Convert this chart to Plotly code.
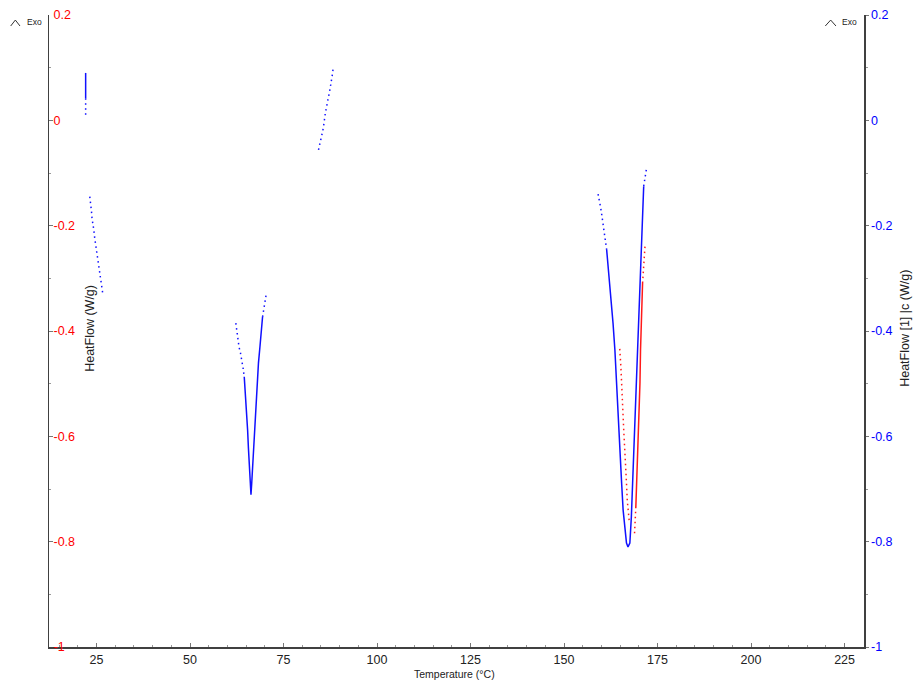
import plotly.graph_objects as go

# ---------------- data (Temperature °C, HeatFlow W/g) ----------------
# Blue series: HeatFlow [1] |c (right axis)
b1_solid_T = [22.1, 22.1]
b1_solid_hf = [0.090, 0.042]
b1_dots_T = [22.1, 22.1, 22.1, 22.1, 22.1, 22.1, 22.1, 22.1]
b1_dots_hf = [0.042, 0.035, 0.030, 0.025, 0.020, 0.0145, 0.010, 0.004]

b2_dots_T = [23.2, 23.5, 23.66, 23.8, 24.1, 24.28, 24.47, 24.73, 24.9, 25.08,
             25.27, 25.53, 25.7, 25.88, 26.15, 26.34, 26.77]
b2_dots_hf = [-0.145, -0.158, -0.173, -0.186, -0.197, -0.208, -0.221, -0.2335,
              -0.245, -0.256, -0.265, -0.277, -0.287, -0.297, -0.309, -0.319, -0.3335]

b3_left_dots_T = [62.25, 62.4, 62.6, 62.9, 63.1, 63.5, 63.85, 64.2, 64.5]
b3_left_dots_hf = [-0.385, -0.395, -0.404, -0.417, -0.430, -0.442, -0.455, -0.471, -0.487]
b3_solid_T = [64.5, 64.7, 64.9, 65.1, 65.4, 65.6, 65.8, 66.0, 66.3, 66.5, 66.8,
              67.1, 67.3, 67.6, 67.9, 68.3, 68.7, 69.1, 69.4]
b3_solid_hf = [-0.487, -0.506, -0.525, -0.556, -0.588, -0.620, -0.651, -0.683, -0.711,
               -0.689, -0.651, -0.607, -0.569, -0.525, -0.493, -0.461, -0.430, -0.398, -0.373]
b3_right_dots_T = [69.4, 69.65, 70.0, 70.45]
b3_right_dots_hf = [-0.373, -0.360, -0.341, -0.327]

b4_dots_T = [84.36, 84.97, 85.24, 85.43, 85.7, 85.86, 86.04, 86.2, 86.4, 86.58,
             86.85, 87.1, 87.3, 87.57, 87.8, 88.0, 88.26]
b4_dots_hf = [-0.056, -0.039, -0.030, -0.022, -0.012, -0.001, 0.007, 0.015, 0.0215,
              0.030, 0.037, 0.047, 0.054, 0.063, 0.072, 0.084, 0.0975]

b5_left_dots_T = [159.1, 159.6, 159.8, 160.1, 160.5, 160.9, 161.2, 161.4]
b5_left_dots_hf = [-0.140, -0.155, -0.166, -0.180, -0.202, -0.221, -0.240, -0.246]
b5_solid_T = [161.4, 161.8, 162.2, 162.7, 163.1, 163.6, 164.0, 164.5, 164.9, 165.4,
              165.8, 166.3, 166.7, 167.1, 167.6, 168.0, 168.5, 168.9, 169.4, 169.8,
              170.3, 170.7, 171.1, 171.3]
b5_solid_hf = [-0.246, -0.278, -0.309, -0.341, -0.385, -0.436, -0.499, -0.563, -0.626,
               -0.689, -0.740, -0.772, -0.8025, -0.810, -0.8025, -0.753, -0.658, -0.563,
               -0.468, -0.385, -0.322, -0.233, -0.151, -0.125]
b5_right_dots_T = [171.3, 171.6, 171.9, 172.1]
b5_right_dots_hf = [-0.125, -0.113, -0.098, -0.089]

# Red series: HeatFlow (left axis)
r_left_dots_T = [164.9, 165.1, 165.2, 165.4, 165.5, 165.8, 166.0, 166.3, 166.4,
                 166.7, 166.9, 167.1, 167.4]
r_left_dots_hf = [-0.434, -0.449, -0.468, -0.499, -0.531, -0.563, -0.594, -0.626,
                  -0.658, -0.689, -0.721, -0.740, -0.759]
r_bottom_dots_T = [168.85, 169.0, 169.2]
r_bottom_dots_hf = [-0.784, -0.759, -0.734]
r_solid_T = [169.2, 169.4, 169.8, 170.1, 170.3, 170.45, 170.7, 171.0]
r_solid_hf = [-0.734, -0.689, -0.626, -0.563, -0.499, -0.436, -0.373, -0.309]
r_top_dots_T = [171.0, 171.3, 171.7]
r_top_dots_hf = [-0.309, -0.265, -0.2335]

x_ticks = [25, 50, 75, 100, 125, 150, 175, 200, 225]
y_ticks = [-1, -0.8, -0.6, -0.4, -0.2, 0, 0.2]
y_ticktext = ["-1", "-0.8", "-0.6", "-0.4", "-0.2", "0", "0.2"]
y_minor = [-0.9, -0.7, -0.5, -0.3, -0.1, 0.1]

BLUE = "#1010ff"
RED = "#ff1a1a"
DOT = "1.5px,3.5px"

fig = go.Figure()


def add(T, hf, color, dotted, axis):
    fig.add_trace(go.Scatter(
        x=T, y=hf, mode="lines", yaxis=axis, showlegend=False, hoverinfo="skip",
        line=dict(color=color, width=1.5, dash=DOT if dotted else "solid")))


# blue
add(b1_solid_T, b1_solid_hf, BLUE, False, "y2")
add(b1_dots_T, b1_dots_hf, BLUE, True, "y2")
add(b2_dots_T, b2_dots_hf, BLUE, True, "y2")
add(b3_left_dots_T, b3_left_dots_hf, BLUE, True, "y2")
add(b3_solid_T, b3_solid_hf, BLUE, False, "y2")
add(b3_right_dots_T, b3_right_dots_hf, BLUE, True, "y2")
add(b4_dots_T, b4_dots_hf, BLUE, True, "y2")
add(b5_left_dots_T, b5_left_dots_hf, BLUE, True, "y2")
add(b5_solid_T, b5_solid_hf, BLUE, False, "y2")
add(b5_right_dots_T, b5_right_dots_hf, BLUE, True, "y2")
# red
add(r_left_dots_T, r_left_dots_hf, RED, True, "y")
add(r_bottom_dots_T, r_bottom_dots_hf, RED, True, "y")
add(r_solid_T, r_solid_hf, RED, False, "y")
add(r_top_dots_T, r_top_dots_hf, RED, True, "y")

FONT = "Liberation Sans, Arial, sans-serif"
AXC = "#404040"

fig.update_layout(
    width=914, height=682,
    margin=dict(l=49, r=50, t=15, b=35, autoexpand=False),
    paper_bgcolor="white", plot_bgcolor="white",
    font=dict(family=FONT, size=12, color="#222"),
    xaxis=dict(range=[12.3, 230.2], tickvals=x_ticks, showgrid=False, zeroline=False,
               automargin=False,
               showline=True, linecolor=AXC, linewidth=1.5,
               ticks="inside", ticklen=4, tickcolor="#777", tickwidth=1,
               tickfont=dict(family=FONT, size=12.5, color="#222"),
               minor=dict(dtick=5, ticks="inside", ticklen=2, tickcolor="#999")),
    yaxis=dict(range=[-1, 0.2], tickvals=y_ticks, ticktext=y_ticktext,
               showgrid=False, zeroline=False, automargin=False,
               showline=True, linecolor=AXC, linewidth=1.5,
               ticks="inside", ticklen=4, tickcolor="#777",
               ticklabelposition="inside", ticklabeloverflow="allow",
               tickfont=dict(family=FONT, size=12.5, color="#ff0000"),
               minor=dict(tickvals=y_minor, ticks="inside", ticklen=2, tickcolor="#999")),
    yaxis2=dict(range=[-1, 0.2], tickvals=y_ticks, ticktext=y_ticktext,
                overlaying="y", side="right", anchor="x",
                showgrid=False, zeroline=False, automargin=False,
                showline=True, linecolor=AXC, linewidth=1.5,
                ticks="outside", ticklen=3, tickcolor="#777",
                tickfont=dict(family=FONT, size=12.5, color="#0000ff"),
                minor=dict(tickvals=y_minor, ticks="outside", ticklen=2, tickcolor="#999")),
)

annos = [
    dict(text="Temperature (°C)", x=0.498, y=-0.0427, size=10.5, angle=0),
    dict(text="HeatFlow (W/g)", x=0.0503, y=0.505, size=12.5, angle=-90),
    dict(text="HeatFlow [1] |c (W/g)", x=1.0503, y=0.505, size=12.5, angle=-90),
    dict(text="Exo", x=-0.0175, y=0.9889, size=8.5, angle=0),
    dict(text="Exo", x=0.982, y=0.9889, size=8.5, angle=0),
]
for a in annos:
    fig.add_annotation(xref="paper", yref="paper", showarrow=False,
                       xanchor="center", yanchor="middle",
                       font=dict(family=FONT, color="#222", size=a["size"]),
                       text=a["text"], x=a["x"], y=a["y"], textangle=a["angle"])

# "^" exo markers
for x0, x1, x2 in [(-0.0470, -0.0413, -0.0356), (0.9525, 0.9591, 0.9656)]:
    fig.add_shape(type="path", xref="paper", yref="paper",
                  path=f"M {x0} 0.9826 L {x1} 0.992 L {x2} 0.9826",
                  line=dict(color="#333", width=1))

# remove the browser's default 8px body margin so the 914x682 figure fills the window
fig.write_html("out.html",
               config={"displayModeBar": False, "staticPlot": True},
               post_script="document.body.style.margin='0';"
                           "document.body.style.overflow='hidden';")
